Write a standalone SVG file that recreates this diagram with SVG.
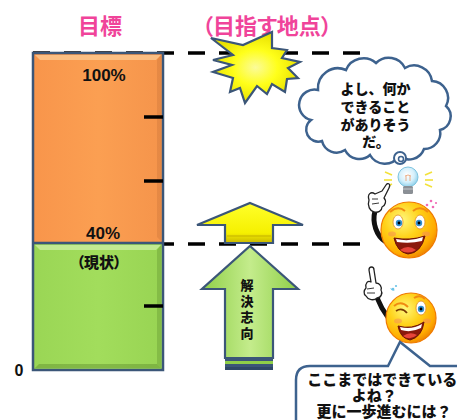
<svg xmlns="http://www.w3.org/2000/svg" width="457" height="420" viewBox="0 0 457 420">
  <style>
    .ttl { font-family: "Noto Sans CJK JP", "Noto Sans", sans-serif; font-weight: 700; font-size: 22px; fill: #f0449a; font-feature-settings: "palt"; }
    .pct { font-family: "Liberation Sans", Arial, sans-serif; font-weight: 700; fill: #111; }
    .jp { font-family: "Noto Sans CJK JP", "Noto Sans", sans-serif; font-weight: 900; fill: #111; }
    .dash { stroke: #000; stroke-width: 3.5; stroke-dasharray: 17 14; fill: none; }
    .tick { stroke: #000; stroke-width: 3.5; }
    .edge { stroke: #3b5678; stroke-width: 2.5; }
    .bubble { fill: #fff; stroke: #3d628e; stroke-width: 2.5; }
    .glove { fill: #fff; stroke: #222; stroke-width: 1.3; stroke-linejoin: round; }
  </style>
  <defs>
    <linearGradient id="orangeFill" x1="0" y1="0" x2="1" y2="0">
      <stop offset="0" stop-color="#f8954b"/>
      <stop offset="0.5" stop-color="#fb9f52"/>
      <stop offset="1" stop-color="#f5944b"/>
    </linearGradient>
    <linearGradient id="greenFill" x1="0" y1="0" x2="1" y2="0">
      <stop offset="0" stop-color="#9ad655"/>
      <stop offset="0.5" stop-color="#a2dd5c"/>
      <stop offset="1" stop-color="#98d453"/>
    </linearGradient>
    <linearGradient id="yellowArrow" x1="0" y1="0" x2="0" y2="1">
      <stop offset="0" stop-color="#ffff2a"/>
      <stop offset="0.75" stop-color="#f6f000"/>
      <stop offset="1" stop-color="#c9b800"/>
    </linearGradient>
    <linearGradient id="greenArrow" x1="0" y1="0" x2="1" y2="0">
      <stop offset="0" stop-color="#8fcf48"/>
      <stop offset="0.5" stop-color="#c4ec8c"/>
      <stop offset="1" stop-color="#8fcf48"/>
    </linearGradient>
    <radialGradient id="burst" cx="0.5" cy="0.5" r="0.5">
      <stop offset="0" stop-color="#fbfb9a"/>
      <stop offset="0.5" stop-color="#ffff1a"/>
      <stop offset="1" stop-color="#e8e000"/>
    </radialGradient>
    <radialGradient id="face" cx="0.38" cy="0.32" r="0.7">
      <stop offset="0" stop-color="#fff77a"/>
      <stop offset="0.45" stop-color="#ffd21a"/>
      <stop offset="0.85" stop-color="#ffab00"/>
      <stop offset="1" stop-color="#f08a00"/>
    </radialGradient>
    <radialGradient id="bulb" cx="0.45" cy="0.4" r="0.6">
      <stop offset="0" stop-color="#ffffff"/>
      <stop offset="0.6" stop-color="#d6f0fb"/>
      <stop offset="1" stop-color="#8fd0ea"/>
    </radialGradient>
  </defs>

  <!-- connectors: level guides -->
  <g id="connectors">
    <line class="dash" x1="33" y1="53" x2="360" y2="53"/>
    <line class="dash" x1="163" y1="244" x2="360" y2="244" stroke-dashoffset="6"/>
  </g>

  <!-- titles -->
  <g id="titles">
    <text class="ttl" x="100" y="34" text-anchor="middle">目標</text>
    <text class="ttl" x="267" y="34" text-anchor="middle" font-size="23">（目指す地点）</text>
  </g>

  <!-- level bar -->
  <g id="bar">
    <rect x="33" y="53" width="130" height="190" fill="url(#orangeFill)"/>
    <rect x="33" y="243" width="130" height="127" fill="url(#greenFill)"/>
    <!-- bevel highlights and shades -->
    <path d="M35 55 H161 L156 60 H40 Z" fill="#fcc890" opacity="0.8"/>
    <path d="M35 245 H161 L156 250 H40 Z" fill="#cbeea0" opacity="0.8"/>
    <path d="M161 55 V241 L157 237 V60 Z" fill="#c8733a" opacity="0.35"/>
    <path d="M161 245 V368 L157 364 V250 Z" fill="#5f8e2e" opacity="0.35"/>
    <path d="M35 368 H161 L157 364 H39 Z" fill="#5f8e2e" opacity="0.45"/>
    <rect class="edge" x="33" y="53" width="130" height="317" fill="none"/>
    <line class="edge" x1="33" y1="243" x2="163" y2="243"/>
    <line class="tick" x1="144" y1="117" x2="163" y2="117"/>
    <line class="tick" x1="144" y1="181" x2="163" y2="181"/>
    <line class="tick" x1="144" y1="306" x2="163" y2="306"/>
    <text class="pct" x="104" y="81" font-size="17" text-anchor="middle">100%</text>
    <text class="pct" x="103" y="239" font-size="17" text-anchor="middle">40%</text>
    <text class="jp" x="99" y="268" font-size="15" text-anchor="middle" style="font-feature-settings: 'palt'">（現状）</text>
    <text class="pct" x="19" y="376" font-size="16" text-anchor="middle">0</text>
  </g>

  <!-- goal burst -->
  <g id="goal-burst">
    <polygon points="211,38 243,45 272,32 272,48 287,50 282,58 300,62 288,68 298,78 287,79 285,92 272,84 267,94 257,86 245,103 240,88 230,92 233,78 213,72 232,65 213,60 233,55" fill="url(#burst)" stroke="#3b5678" stroke-width="2.2" stroke-linejoin="miter"/>
  </g>

  <!-- yellow step arrow -->
  <g id="step-arrow">
    <path d="M250 203 L303 225 H273 V243 H225 V225 H197 Z" fill="url(#yellowArrow)" stroke="#3b5678" stroke-width="2.2" stroke-linejoin="miter"/>
    <line x1="227" y1="236" x2="271" y2="236" stroke="#d0c000" stroke-width="1.5"/>
  </g>

  <!-- green solution arrow -->
  <g id="solution-arrow">
    <path d="M250 246 L298 289 H273 V358 H225 V289 H202 Z" fill="url(#greenArrow)" stroke="#3b5678" stroke-width="2.2" stroke-linejoin="miter"/>
    <rect x="225" y="358" width="48" height="3" fill="#3b5678"/>
    <rect x="225" y="361" width="48" height="3" fill="#8fcf48"/>
    <rect x="225" y="364" width="48" height="3" fill="#3b5678"/>
    <rect x="225" y="367" width="48" height="3" fill="#2f4868"/>
    <text class="jp" x="247" y="279" font-size="13" style="writing-mode: vertical-rl" letter-spacing="3">解決志向</text>
  </g>

  <!-- thought cloud -->
  <g id="thought-cloud">
    <path class="bubble" d="M311 120 A14 14 0 0 1 318 90 A20 20 0 0 1 346 70 A19 19 0 0 1 376 63 A18 18 0 0 1 405 68 A18 18 0 0 1 432 81 A17 17 0 0 1 446 106 A14 14 0 0 1 440 130 A16 16 0 0 1 424 149 A16 16 0 0 1 399 156 A17 17 0 0 1 370 155 A16 16 0 0 1 345 150 A15 15 0 0 1 322 141 A12 12 0 0 1 311 120 Z"/>
    <circle cx="400" cy="158" r="6" fill="#fff" stroke="#3d628e" stroke-width="2"/>
    <circle cx="401" cy="159" r="2.5" fill="none" stroke="#3d628e" stroke-width="1.5"/>
    <text class="jp" font-size="14" text-anchor="middle">
      <tspan x="377" y="94">よし、何か</tspan>
      <tspan x="377" y="112">できること</tspan>
      <tspan x="377" y="130">がありそう</tspan>
      <tspan x="376" y="147">だ。</tspan>
    </text>
  </g>

  <!-- smiley with light bulb -->
  <g id="idea-face">
    <line x1="385" y1="172" x2="392" y2="175" stroke="#f3e23a" stroke-width="1.6"/>
    <line x1="384" y1="180" x2="392" y2="180" stroke="#f3e23a" stroke-width="1.6"/>
    <line x1="386" y1="187" x2="392" y2="184" stroke="#f3e23a" stroke-width="1.6"/>
    <line x1="425" y1="175" x2="432" y2="172" stroke="#f3e23a" stroke-width="1.6"/>
    <line x1="425" y1="180" x2="433" y2="180" stroke="#f3e23a" stroke-width="1.6"/>
    <line x1="425" y1="184" x2="432" y2="187" stroke="#f3e23a" stroke-width="1.6"/>
    <circle cx="408" cy="177" r="10" fill="url(#bulb)" stroke="#7ec4e0" stroke-width="1"/>
    <path d="M406 181 L406 176 M410 181 L410 176 M405 176 Q408 174 411 176" stroke="#e89a6a" stroke-width="0.8" fill="none"/>
    <rect x="403" y="186" width="10" height="8" rx="1.5" fill="#8a8f95"/>
    <line x1="403" y1="189" x2="413" y2="189" stroke="#c5c9cd" stroke-width="1"/>
    <circle cx="427" cy="205" r="1.3" fill="#f06ab4"/>
    <circle cx="431" cy="201" r="1.3" fill="#f06ab4"/>
    <circle cx="433" cy="207" r="1.3" fill="#f06ab4"/>
    <circle cx="436" cy="203" r="1.1" fill="#f06ab4"/>
    <!-- arm and glove -->
    <path d="M375 211 C372 222 376 236 386 242" stroke="#111" stroke-width="5" fill="none"/>
    <path class="glove" d="M369 200 C367 194 371 191 375 194 L382 191 L386 185 C388 182 391 184 389 188 L384 198 C387 201 385 206 382 207 C382 211 378 213 374 212 C370 211 367 206 369 200 Z"/>
    <path d="M372 199 L378 199 M372 204 L379 203" stroke="#222" stroke-width="0.9" fill="none"/>
    <circle cx="409" cy="230" r="28" fill="url(#face)" stroke="#f07a00" stroke-width="1.2"/>
    <path d="M390 212 Q398 205 405 211" stroke="#f08a10" stroke-width="2" fill="none"/>
    <path d="M413 211 Q420 205 428 212" stroke="#f08a10" stroke-width="2" fill="none"/>
    <ellipse cx="398" cy="222" rx="5" ry="7" fill="#fff" stroke="#e08a20" stroke-width="0.8"/>
    <ellipse cx="420" cy="222" rx="5" ry="7" fill="#fff" stroke="#e08a20" stroke-width="0.8"/>
    <circle cx="399" cy="223" r="3.2" fill="#2f8fd0"/>
    <circle cx="419" cy="223" r="3.2" fill="#2f8fd0"/>
    <circle cx="399" cy="223" r="1.4" fill="#000"/>
    <circle cx="419" cy="223" r="1.4" fill="#000"/>
    <ellipse cx="392" cy="234" rx="4" ry="2.5" fill="#f58a5a" opacity="0.5"/>
    <ellipse cx="426" cy="234" rx="4" ry="2.5" fill="#f58a5a" opacity="0.5"/>
    <path d="M394 238 Q410 241 425 236 Q421 253 408 254 Q397 252 394 238 Z" fill="#8b1a0c" stroke="#6b1208" stroke-width="1"/>
    <path d="M396 239 Q410 242 423 237 L422 241 Q410 244 397 242 Z" fill="#fff"/>
    <path d="M400 250 Q408 244 416 250 Q408 255 400 250 Z" fill="#e8453a"/>
  </g>

  <!-- winking smiley -->
  <g id="wink-face">
    <path d="M375 290 C378 303 385 315 394 324" stroke="#111" stroke-width="5" fill="none"/>
    <path class="glove" d="M366 288 C365 283 368 280 371 282 L369 270 C369 266 374 266 374 270 L376 283 C380 283 382 287 381 290 C383 293 381 298 377 298 C374 301 368 300 366 296 C363 294 364 290 366 288 Z"/>
    <path d="M367 289 L374 288 M367 293 L375 293" stroke="#222" stroke-width="0.9" fill="none"/>
    <path d="M390 288 Q392 292 395 290 Z" fill="#6cc4e8"/>
    <circle cx="393" cy="289" r="1.3" fill="#6cc4e8"/>
    <circle cx="396" cy="286" r="1.1" fill="#6cc4e8"/>
    <circle cx="411" cy="318" r="25" fill="url(#face)" stroke="#f07a00" stroke-width="1.2"/>
    <path d="M394 306 Q401 300 408 307" stroke="#f08a10" stroke-width="2" fill="none"/>
    <path d="M414 298 Q420 294 425 299" stroke="#f08a10" stroke-width="2" fill="none"/>
    <path d="M396 311 Q402 307 407 313" stroke="#7a3a00" stroke-width="1.8" fill="none"/>
    <ellipse cx="421" cy="308" rx="5" ry="7" fill="#fff" stroke="#e08a20" stroke-width="0.8"/>
    <circle cx="421" cy="309" r="3.2" fill="#2f8fd0"/>
    <circle cx="421" cy="309" r="1.4" fill="#000"/>
    <ellipse cx="398" cy="321" rx="4" ry="2.5" fill="#f58a5a" opacity="0.5"/>
    <ellipse cx="427" cy="321" rx="4" ry="2.5" fill="#f58a5a" opacity="0.5"/>
    <path d="M398 326 Q412 330 424 322 Q422 337 410 340 Q400 338 398 326 Z" fill="#8b1a0c" stroke="#6b1208" stroke-width="1"/>
    <path d="M400 327 Q412 330 422 324 L421 328 Q411 333 401 330 Z" fill="#fff"/>
    <path d="M403 336 Q410 331 417 335 Q410 341 403 336 Z" fill="#e8453a"/>
  </g>

  <!-- speech bubble -->
  <g id="speech-bubble">
    <path class="bubble" d="M296 380 Q296 366 310 366 H388 L400 342 L430 366 H470 V430 H296 Z"/>
    <text class="jp" font-size="15" text-anchor="middle">
      <tspan x="384" y="385">ここまではできている</tspan>
      <tspan x="376" y="401">よね？</tspan>
      <tspan x="384" y="417">更に一歩進むには？</tspan>
    </text>
  </g>
</svg>
